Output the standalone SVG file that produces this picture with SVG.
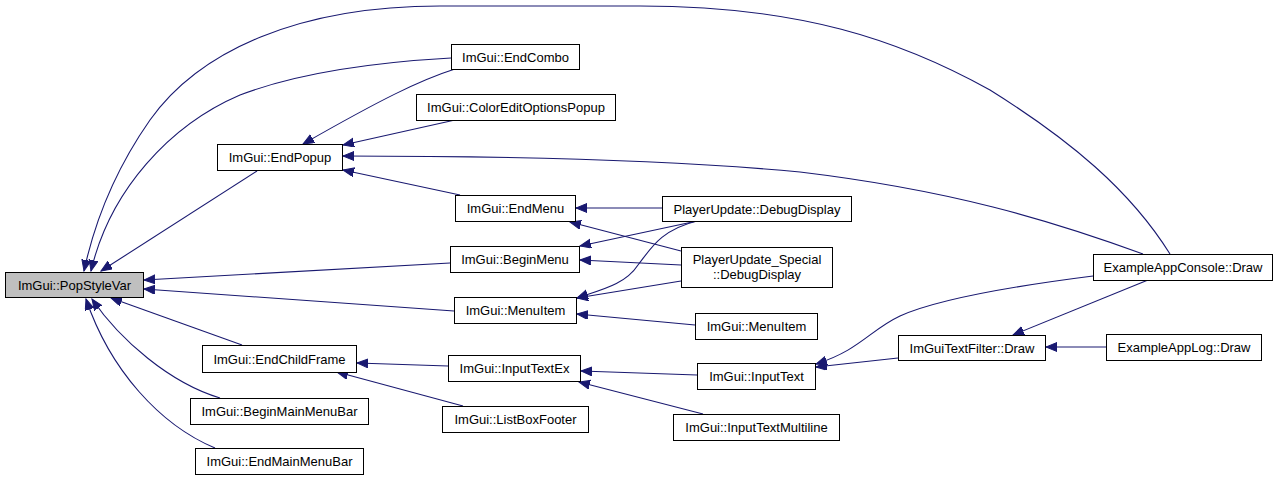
<svg xmlns="http://www.w3.org/2000/svg" width="1279" height="481" viewBox="0 0 1279 481">
<style>
.n rect{fill:#fff;stroke:#000;stroke-width:1}
.n text{font-family:"Liberation Sans",Arial,sans-serif;font-size:13px;fill:#000;text-anchor:middle}
.e path{fill:none;stroke:#191970;stroke-width:1.1;marker-end:url(#ah)}
</style>
<defs>
<marker id="ah" markerUnits="userSpaceOnUse" markerWidth="12" markerHeight="10" refX="11" refY="4.5" orient="auto">
<path d="M0,0 L11,4.5 L0,9 z" fill="#191970" stroke="#191970" stroke-width="1"/>
</marker>
</defs>
<rect width="1279" height="481" fill="#fff"/>
<g id="edges" class="e">
<path d="M1170,254 C1130,190 1070,140 990,90 C900,40 800,6 640,6 L440,6 C300,6 200,50 150,120 C115,170 95,220 84,271"/>
<path d="M451,58 C380,62 300,72 240,95 C170,125 110,190 91,271"/>
<path d="M257,171 L101,271"/>
<path d="M450,263 L144,280"/>
<path d="M454,311 L144,289"/>
<path d="M242,345 L111,298"/>
<path d="M220,398 C170,383 120,340 92,299"/>
<path d="M215,448 C160,425 110,370 86,299"/>
<path d="M455,69 C420,80 380,100 303,144"/>
<path d="M455,120 L343,145"/>
<path d="M1143,254 C1050,220 950,190 800,172 C650,158 450,156 343,156"/>
<path d="M460,195 L343,170"/>
<path d="M662,208 L576,208"/>
<path d="M681,251 L570,222"/>
<path d="M697,221 L580,246"/>
<path d="M681,265 L580,260"/>
<path d="M697,221 C660,230 650,250 638,265 C625,285 600,290 577,298"/>
<path d="M681,281 L577,298"/>
<path d="M695,325 L577,314"/>
<path d="M448,366 L357,363"/>
<path d="M463,406 L337,372"/>
<path d="M697,375 L581,371"/>
<path d="M703,414 L579,382"/>
<path d="M898,358 L816,367"/>
<path d="M1093,276 C1030,284 940,298 900,316 C870,330 860,350 816,364"/>
<path d="M1148,280 L1013,335"/>
<path d="M1106,347 L1046,347"/>
</g>
<g id="n_popstylevar" class="n"><rect x="5.5" y="272.5" width="138" height="25" style="fill:#bfbfbf"/><text x="74.5" y="289.5">ImGui::PopStyleVar</text></g>
<g id="n_endpopup" class="n"><rect x="217.5" y="144.5" width="125" height="26"/><text x="280" y="162">ImGui::EndPopup</text></g>
<g id="n_endcombo" class="n"><rect x="451.5" y="44.5" width="128" height="25"/><text x="515.5" y="61.5">ImGui::EndCombo</text></g>
<g id="n_coloreditoptionspopup" class="n"><rect x="416.5" y="94.5" width="199" height="26"/><text x="516" y="112">ImGui::ColorEditOptionsPopup</text></g>
<g id="n_endmenu" class="n"><rect x="455.5" y="195.5" width="120" height="26"/><text x="515.5" y="213">ImGui::EndMenu</text></g>
<g id="n_beginmenu" class="n"><rect x="450.5" y="246.5" width="129" height="26"/><text x="515" y="264">ImGui::BeginMenu</text></g>
<g id="n_menuitem" class="n"><rect x="454.5" y="297.5" width="122" height="26"/><text x="515.5" y="315">ImGui::MenuItem</text></g>
<g id="n_playerupdate_debugdisplay" class="n"><rect x="662.5" y="196.5" width="189" height="25"/><text x="757" y="213.5">PlayerUpdate::DebugDisplay</text></g>
<g id="n_playerupdate_special_debugdisplay" class="n"><rect x="681.5" y="247.5" width="151" height="40"/><text x="757" y="263.5">PlayerUpdate_Special</text><text x="757" y="278.5">::DebugDisplay</text></g>
<g id="n_menuitem2" class="n"><rect x="695.5" y="313.5" width="122" height="26"/><text x="756.5" y="331">ImGui::MenuItem</text></g>
<g id="n_endchildframe" class="n"><rect x="202.5" y="345.5" width="154" height="27"/><text x="279.5" y="363.5">ImGui::EndChildFrame</text></g>
<g id="n_beginmainmenubar" class="n"><rect x="190.5" y="398.5" width="178" height="26"/><text x="279.5" y="416">ImGui::BeginMainMenuBar</text></g>
<g id="n_endmainmenubar" class="n"><rect x="195.5" y="448.5" width="168" height="26"/><text x="279.5" y="466">ImGui::EndMainMenuBar</text></g>
<g id="n_inputtextex" class="n"><rect x="448.5" y="355.5" width="132" height="26"/><text x="514.5" y="373">ImGui::InputTextEx</text></g>
<g id="n_listboxfooter" class="n"><rect x="442.5" y="406.5" width="146" height="26"/><text x="515.5" y="424">ImGui::ListBoxFooter</text></g>
<g id="n_inputtext" class="n"><rect x="697.5" y="363.5" width="118" height="26"/><text x="756.5" y="381">ImGui::InputText</text></g>
<g id="n_inputtextmultiline" class="n"><rect x="673.5" y="414.5" width="166" height="26"/><text x="756.5" y="432">ImGui::InputTextMultiline</text></g>
<g id="n_exampleappconsole_draw" class="n"><rect x="1093.5" y="254.5" width="179" height="26"/><text x="1183" y="272">ExampleAppConsole::Draw</text></g>
<g id="n_imguitextfilter_draw" class="n"><rect x="898.5" y="335.5" width="147" height="25"/><text x="972" y="352.5">ImGuiTextFilter::Draw</text></g>
<g id="n_exampleapplog_draw" class="n"><rect x="1106.5" y="334.5" width="155" height="26"/><text x="1184" y="352">ExampleAppLog::Draw</text></g>
</svg>
